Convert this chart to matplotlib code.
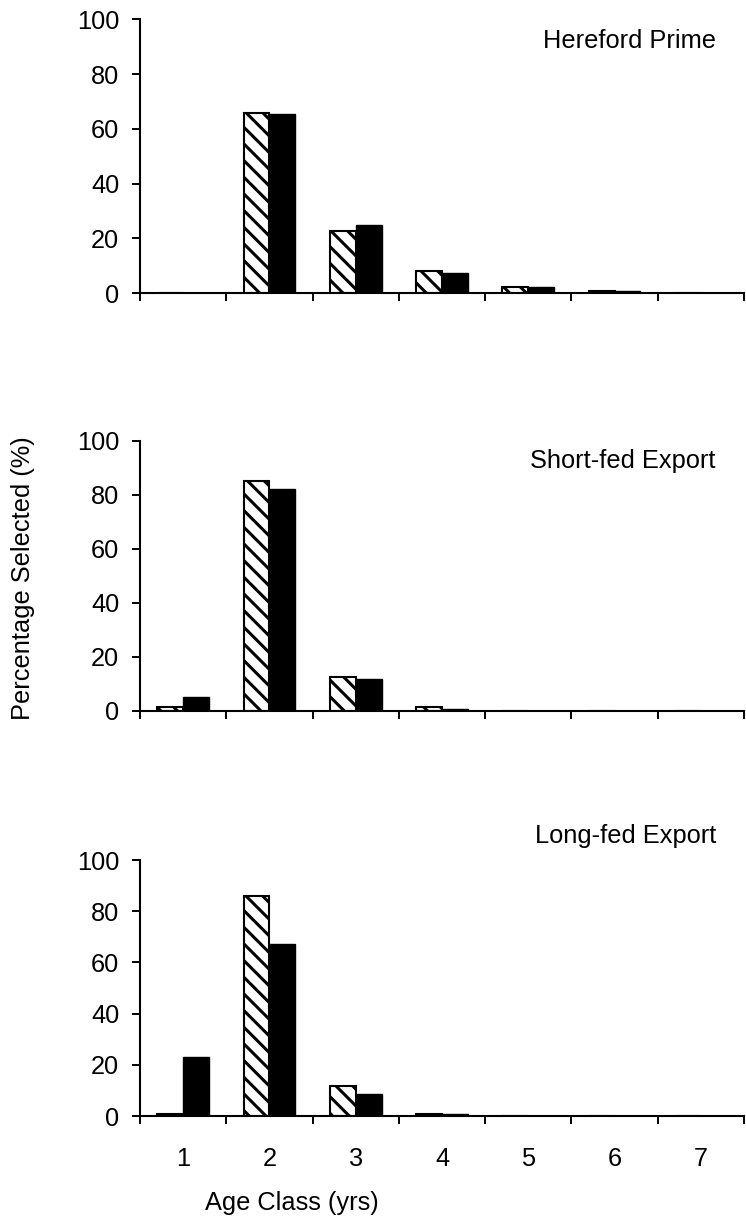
import numpy as np
import matplotlib
matplotlib.use("Agg")
import matplotlib.pyplot as plt

plt.rcParams['font.family'] = ['Liberation Sans', 'DejaVu Sans']
plt.rcParams['hatch.linewidth'] = 2.2

ages = [1, 2, 3, 4, 5, 6, 7]
titles = ["Hereford Prime", "Short-fed Export", "Long-fed Export"]

# hatched series, then solid black series
hereford_a = [0, 65.9, 22.7, 8.0, 2.3, 0.8, 0]
hereford_b = [0, 65.3, 24.8, 7.3, 2.3, 0.8, 0]
short_a = [1.4, 85.1, 12.5, 1.4, 0, 0, 0]
short_b = [5.3, 82.3, 11.9, 0.7, 0, 0, 0]
long_a = [0.8, 86.1, 11.7, 0.8, 0, 0, 0]
long_b = [22.9, 67.3, 8.7, 0.8, 0, 0, 0]

series = [(hereford_a, hereford_b), (short_a, short_b), (long_a, long_b)]

fig = plt.figure(figsize=(7.46, 12.22), dpi=100)
W, H = 746.0, 1222.0
left, right = 140 / W, 744 / W
# (top px, bottom px) of each axes
boxes = [(19.3, 293), (441, 711), (860, 1116)]
title_y = [41, 461, 836]
fs = 18.3

x = np.array(ages)
bw = 0.3
for i, ((a, b), (t, bt)) in enumerate(zip(series, boxes)):
    ax = fig.add_axes([left, 1 - bt / H, right - left, (bt - t) / H])
    ax.bar(x - bw / 2, a, bw, color='white', edgecolor='black', hatch='\\\\', linewidth=1.5)
    ax.bar(x + bw / 2, b, bw, color='black', edgecolor='black', linewidth=1.0)
    ax.set_xlim(0.5, 7.5)
    ax.set_ylim(0, 100)
    ax.set_yticks([0, 20, 40, 60, 80, 100])
    ax.set_xticks(np.arange(0.5, 8, 1))
    ax.set_xticklabels([])
    ax.spines['top'].set_visible(False)
    ax.spines['right'].set_visible(False)
    ax.spines['left'].set_linewidth(1.5)
    ax.spines['bottom'].set_linewidth(1.5)
    ax.tick_params(axis='both', which='major', direction='out', length=6, width=1.4,
                   labelsize=fs, pad=9)
    if i == 2:
        ax.set_xticks(x, minor=True)
        ax.set_xticklabels([str(v) for v in ages], minor=True)
        ax.tick_params(axis='x', which='minor', length=0, labelsize=fs, pad=22)
    fig.text(716 / W, 1 - title_y[i] / H, titles[i], ha='right', va='center', fontsize=fs)

fig.text(23 / W, 1 - 578 / H, "Percentage Selected (%)", rotation=90,
         ha='center', va='center', fontsize=fs)
fig.text(292 / W, 1 - 1203 / H, "Age Class (yrs)", ha='center', va='center', fontsize=fs)

fig.savefig("out.png", dpi=100)
